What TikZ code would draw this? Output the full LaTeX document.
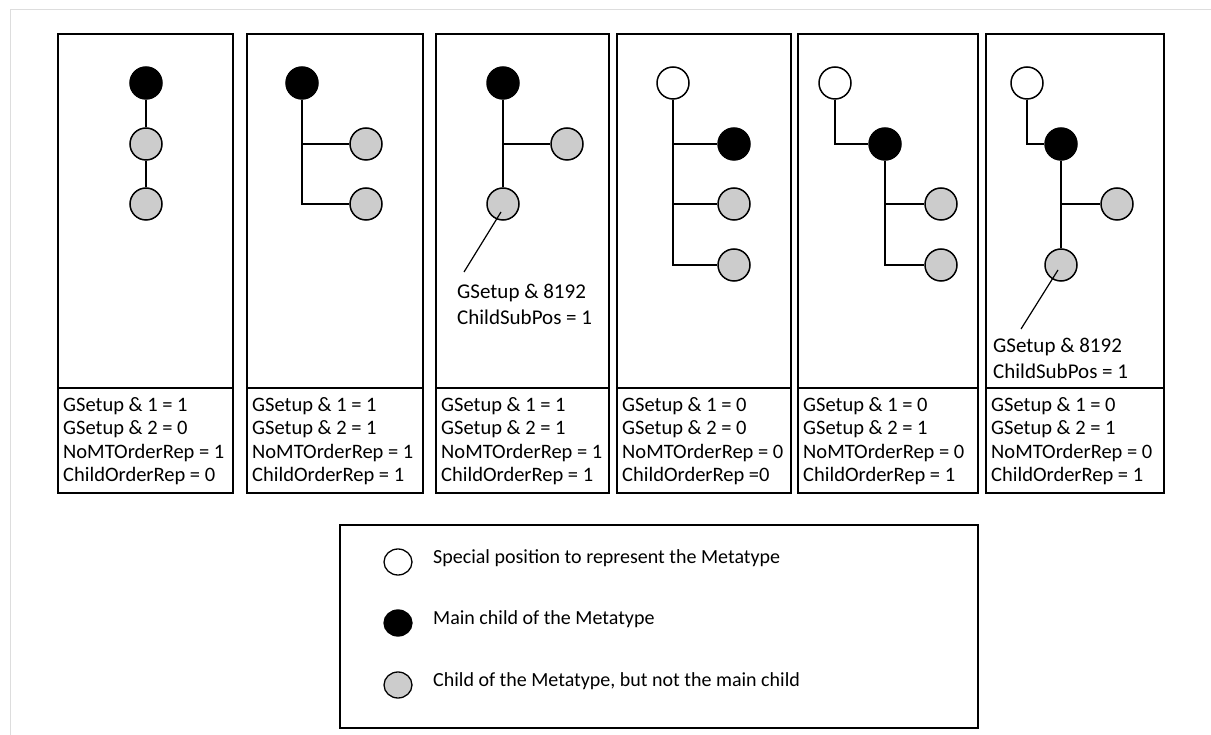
\documentclass[tikz,border=0pt]{standalone}
\usepackage{fontspec}
\setmainfont{Carlito}
\usetikzlibrary{shapes.geometric}
\definecolor{cgray}{HTML}{CCCCCC}
\definecolor{framegray}{HTML}{DDDDDD}
\begin{document}
\begin{tikzpicture}[x=1pt,y=-1pt,
  panel/.style={draw=black,line width=1.3pt},
  blk/.style={circle,draw=black,fill=black,line width=1.5pt,minimum size=32pt,inner sep=0pt},
  wht/.style={circle,draw=black,fill=white,line width=1.5pt,minimum size=32pt,inner sep=0pt},
  gry/.style={circle,draw=black,fill=cgray,line width=1.5pt,minimum size=32pt,inner sep=0pt},
  conn/.style={draw=black,line width=1.6pt},
  boxtext/.style={anchor=west,align=left,inner sep=0pt,font=\fontsize{20.5}{23.4}\selectfont},
  anntext/.style={anchor=north west,align=left,inner sep=0pt,font=\fontsize{21}{26}\selectfont},
  legcirc/.style={ellipse,draw=black,line width=1.3pt,minimum width=28pt,minimum height=26pt,inner sep=0pt},
  legtext/.style={anchor=west,inner sep=0pt,font=\fontsize{20}{24}\selectfont}]
\useasboundingbox (0,0) rectangle (1211,735);
% outer light frame
\draw[framegray,line width=1pt] (10,735) -- (10,10) -- (1211,10);

% panels
\foreach \l/\r [count=\i] in {58/233,247/423,436/609,617/791,798/978,986/1164}{
  \draw[panel] (\l,34) rectangle (\r,493);
  \draw[panel] (\l,388) -- (\r,388);
}

% panel 1
\node[blk] (p1a) at (146,83) {};
\node[gry] (p1b) at (146,144) {};
\node[gry] (p1c) at (146,204) {};
\draw[conn] (p1a) -- (p1b);
\draw[conn] (p1b) -- (p1c);
\node[boxtext] (t1) at (63,441) {GSetup \& 1 = 1\\GSetup \& 2 = 0\\NoMTOrderRep = 1\\ChildOrderRep = 0};

% panel 2
\node[blk] (p2a) at (302,83) {};
\node[gry] (p2b) at (366,144) {};
\node[gry] (p2c) at (366,204) {};
\draw[conn] (p2a) |- (p2c);
\draw[conn] (p2a |- p2b) -- (p2b);
\node[boxtext] (t2) at (252,441) {GSetup \& 1 = 1\\GSetup \& 2 = 1\\NoMTOrderRep = 1\\ChildOrderRep = 1};

% panel 3
\node[blk] (p3a) at (503,83) {};
\node[gry] (p3b) at (567,144) {};
\node[gry] (p3c) at (503,204) {};
\draw[conn] (p3a) -- (p3c);
\draw[conn] (p3a |- p3b) -- (p3b);
\coordinate (p3s) at (501,212);
\coordinate (p3e) at (464,272);
\draw[black,line width=1.2pt] (p3s) -- (p3e);
\node[anntext] (a3) at (457,284) {GSetup \& 8192\\ChildSubPos = 1};
\node[boxtext] (t3) at (441,441) {GSetup \& 1 = 1\\GSetup \& 2 = 1\\NoMTOrderRep = 1\\ChildOrderRep = 1};

% panel 4
\node[wht] (p4a) at (673,83) {};
\node[blk] (p4b) at (734,144) {};
\node[gry] (p4c) at (734,204) {};
\node[gry] (p4d) at (734,265) {};
\draw[conn] (p4a) |- (p4d);
\draw[conn] (p4a |- p4b) -- (p4b);
\draw[conn] (p4a |- p4c) -- (p4c);
\node[boxtext] (t4) at (622,441) {GSetup \& 1 = 0\\GSetup \& 2 = 0\\NoMTOrderRep = 0\\ChildOrderRep =0};

% panel 5
\node[wht] (p5a) at (835,83) {};
\node[blk] (p5b) at (885,144) {};
\node[gry] (p5c) at (941,204) {};
\node[gry] (p5d) at (941,265) {};
\draw[conn] (p5a) |- (p5b);
\draw[conn] (p5b) |- (p5d);
\draw[conn] (p5b |- p5c) -- (p5c);
\node[boxtext] (t5) at (803,441) {GSetup \& 1 = 0\\GSetup \& 2 = 1\\NoMTOrderRep = 0\\ChildOrderRep = 1};

% panel 6
\node[wht] (p6a) at (1027,83) {};
\node[blk] (p6b) at (1061,144) {};
\node[gry] (p6c) at (1117,204) {};
\node[gry] (p6d) at (1061,265) {};
\draw[conn] (p6a) |- (p6b);
\draw[conn] (p6b) -- (p6d);
\draw[conn] (p6b |- p6c) -- (p6c);
\coordinate (p6s) at (1058,270);
\coordinate (p6e) at (1021,329);
\draw[black,line width=1.2pt] (p6s) -- (p6e);
\node[anntext] (a6) at (993,338) {GSetup \& 8192\\ChildSubPos = 1};
\node[boxtext] (t6) at (991,441) {GSetup \& 1 = 0\\GSetup \& 2 = 1\\NoMTOrderRep = 0\\ChildOrderRep = 1};

% legend
\draw[panel] (340,525) rectangle (978,728);
\node[legcirc,fill=white] (l1) at (398,562) {};
\node[legcirc,fill=black] (l2) at (398,623) {};
\node[legcirc,fill=cgray] (l3) at (398,685) {};
\node[legtext] (lt1) at (433,558) {Special position to represent the Metatype};
\node[legtext] (lt2) at (433,619) {Main child of the Metatype};
\node[legtext] (lt3) at (433,681) {Child of the Metatype, but not the main child};
\end{tikzpicture}
\end{document}
